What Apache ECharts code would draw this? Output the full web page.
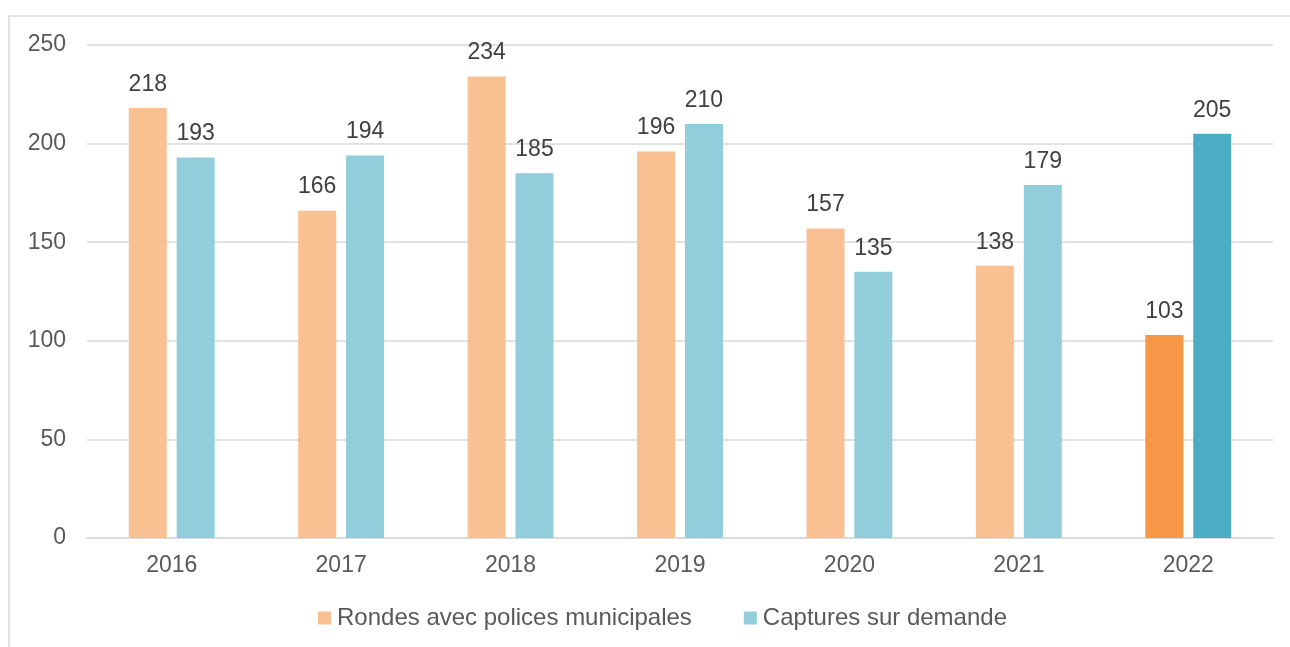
<!DOCTYPE html>
<html><head><meta charset="utf-8">
<script src="https://cdn.jsdelivr.net/npm/echarts@6/dist/echarts.min.js"></script>
<style>html,body{margin:0;padding:0;background:#fff}#c{width:1290px;height:647px}</style>
</head><body><div id="c"></div>
<script>
var categories = ['2016','2017','2018','2019','2020','2021','2022'];
var rondes = [218,166,234,196,157,138,103];
var captures = [193,194,185,210,135,179,205];
var seriesNames = ['Rondes avec polices municipales','Captures sur demande'];
var yTicks = {min:0,max:250,interval:50};

var lightOrange = '#F9C191', darkOrange = '#F79646';
var lightBlue = '#92CDDC', darkBlue = '#4BACC6';

function mk(vals, light, dark){
  return vals.map(function(v,i){
    return {value:v, itemStyle:{color: i===vals.length-1 ? dark : light}};
  });
}
var chart = echarts.init(document.getElementById('c'), null, {renderer:'canvas'});
var font = '"Liberation Sans", Arial, sans-serif';
chart.setOption({
  animation:false,
  textStyle:{fontFamily:font},
  graphic:[{type:'rect',shape:{x:9,y:16,width:1400,height:700},style:{fill:'none',stroke:'#D9D9D9',lineWidth:1.5},silent:true,z:-1}],
  grid:{left:87,right:17,top:45,bottom:109,containLabel:false},
  legend:{
    bottom:12,left:313,itemWidth:13,itemHeight:13,itemGap:52,icon:'rect',
    textStyle:{fontSize:24,color:'#595959',fontFamily:font,padding:[0,0,0,1]},
    data:[{name:seriesNames[0],itemStyle:{color:lightOrange}},{name:seriesNames[1],itemStyle:{color:lightBlue}}]
  },
  xAxis:{type:'category',data:categories,
    axisLine:{lineStyle:{color:'#D9D9D9',width:1.5}},axisTick:{show:false},
    axisLabel:{fontSize:23,color:'#595959',margin:16,fontFamily:font}},
  yAxis:{type:'value',min:yTicks.min,max:yTicks.max,interval:yTicks.interval,
    axisLine:{show:false},axisTick:{show:false},
    splitLine:{lineStyle:{color:'#D9D9D9',width:1.5}},
    axisLabel:{fontSize:23,color:'#595959',margin:21,fontFamily:font}},
  series:[
    {name:seriesNames[0],type:'bar',data:mk(rondes,lightOrange,darkOrange),barWidth:38,barGap:'26%',
     itemStyle:{color:lightOrange},
     label:{show:true,position:'top',distance:12,fontSize:23,color:'#404040',fontFamily:font}},
    {name:seriesNames[1],type:'bar',data:mk(captures,lightBlue,darkBlue),barWidth:38,
     itemStyle:{color:lightBlue},
     label:{show:true,position:'top',distance:12,fontSize:23,color:'#404040',fontFamily:font}}
  ]
});
</script></body></html>
